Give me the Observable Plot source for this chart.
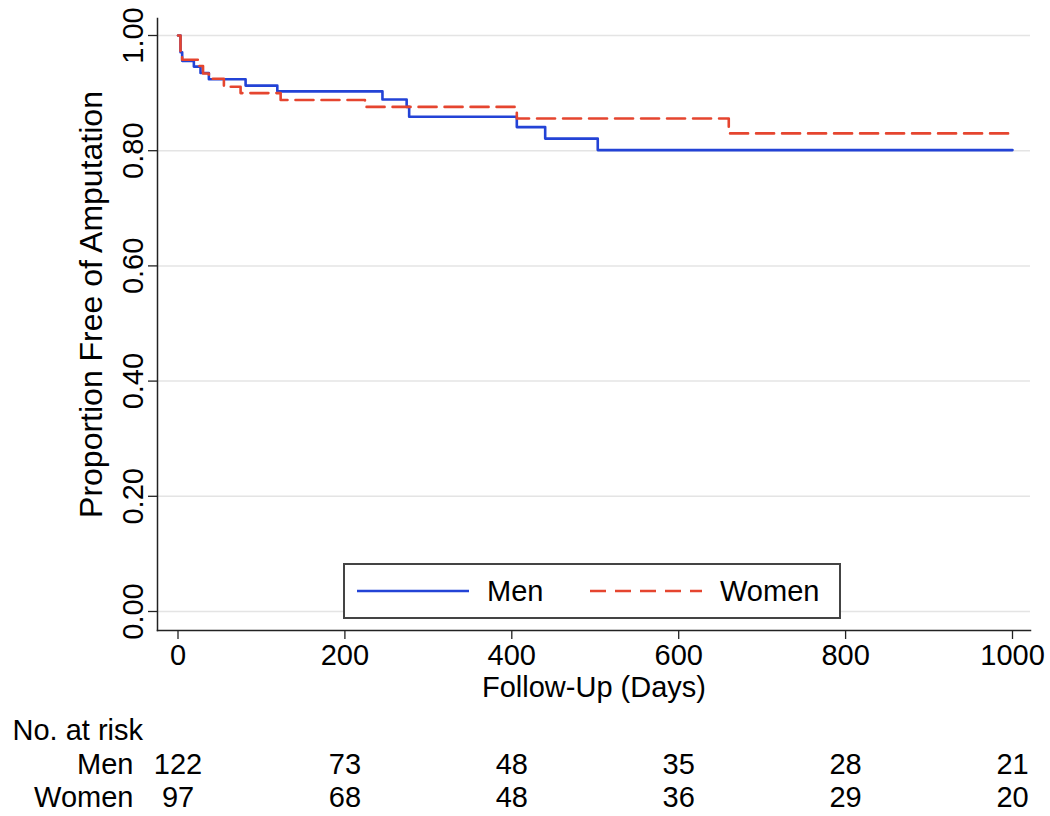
<!DOCTYPE html>
<html>
<head>
<meta charset="utf-8">
<script src="https://cdn.jsdelivr.net/npm/d3@7"></script>
<script src="https://cdn.jsdelivr.net/npm/@observablehq/plot@0.6"></script>
<style>
  html, body { margin: 0; padding: 0; background: #fff; }
  #wrap { position: relative; width: 1050px; height: 816px; font-family: "Liberation Sans", Arial, Helvetica, sans-serif; }
  #legend { position: absolute; left: 343px; top: 563px; width: 494px; height: 52px; border: 2px solid #444; background: #fff; }
  .lg-item { position: absolute; top: 0; height: 52px; display: flex; align-items: center; font-size: 29px; color: #000; }
  .lg-item svg { margin-right: 18px; }
</style>
</head>
<body>
<div id="wrap"><div id="legend"></div></div>
<script>
// Kaplan-Meier step points (day, proportion free of amputation)
const menDays   = [0, 3, 5, 19, 27, 37, 81, 119, 245, 274, 277, 406, 440, 503, 1000];
const menSurv   = [1.0, 0.971, 0.956, 0.946, 0.935, 0.924, 0.913, 0.903, 0.889, 0.876, 0.859, 0.841, 0.821, 0.801, 0.801];
const womenDays = [0, 3, 5, 24, 30, 37, 55, 75, 123, 224, 406, 660, 1000];
const womenSurv = [1.0, 0.971, 0.958, 0.947, 0.934, 0.925, 0.911, 0.900, 0.888, 0.876, 0.856, 0.830, 0.830];

const seriesNames  = ["Men", "Women"];
const seriesColors = ["#2343d6", "#e5452f"];
const seriesDash   = [null, "18,8"];

const xTicks = [0, 200, 400, 600, 800, 1000];
const yTicks = [0, 0.2, 0.4, 0.6, 0.8, 1.0];
const riskDays  = [0, 200, 400, 600, 800, 1000];
const riskMen   = [122, 73, 48, 35, 28, 21];
const riskWomen = [97, 68, 48, 36, 29, 20];

const men = menDays.map((d, i) => ({day: d, surv: menSurv[i]}));
const women = womenDays.map((d, i) => ({day: d, surv: womenSurv[i]}));
const riskTable = riskDays.map((d, i) => ({day: d, men: riskMen[i], women: riskWomen[i]}));

const font = "'Liberation Sans', Arial, Helvetica, sans-serif";
const fs = 29;

const chart = Plot.plot({
  width: 1050,
  height: 816,
  marginLeft: 157,
  marginRight: 20,
  marginTop: 18,
  marginBottom: 186,
  style: {fontFamily: font, fontSize: fs + "px", color: "#000", background: "#fff", overflow: "visible"},
  x: {domain: [0, 1000], range: [177.5, 1012]},
  y: {domain: [0, 1], range: [611, 35]},
  marks: [
    Plot.gridY(yTicks, {stroke: "#e4e4e4", strokeOpacity: 1, strokeWidth: 1.5}),
    Plot.frame({anchor: "left", stroke: "#222", strokeWidth: 1.5}),
    Plot.frame({anchor: "bottom", stroke: "#222", strokeWidth: 1.5}),
    Plot.axisX({ticks: xTicks, tickSize: 9, tickPadding: 5, tickFormat: d3.format("d"), fontSize: fs, label: null, stroke: "#222", strokeWidth: 1.3}),
    Plot.axisY({ticks: yTicks, tickSize: 9, tickPadding: 6, tickRotate: -90, tickFormat: d3.format(".2f"), fontSize: fs, label: null, stroke: "#222", strokeWidth: 1.3}),
    Plot.line(men, {x: "day", y: "surv", curve: "step-after", stroke: seriesColors[0], strokeWidth: 2.6}),
    Plot.line(women, {x: "day", y: "surv", curve: "step-after", stroke: seriesColors[1], strokeWidth: 2.6, strokeDasharray: seriesDash[1]}),
    Plot.text(["Follow-Up (Days)"], {frameAnchor: "bottom", dy: 66, fontSize: fs}),
    Plot.text(["Proportion Free of Amputation"], {frameAnchor: "left", textAnchor: "middle", rotate: -90, dx: -66, dy: -20, fontSize: 32}),
    Plot.text(["No. at risk"], {frameAnchor: "bottom-left", dx: -145, dy: 109, textAnchor: "start", fontSize: fs}),
    Plot.text([seriesNames[0]], {frameAnchor: "bottom-left", dx: -24, dy: 143, textAnchor: "end", fontSize: fs}),
    Plot.text([seriesNames[1]], {frameAnchor: "bottom-left", dx: -24, dy: 176, textAnchor: "end", fontSize: fs}),
    Plot.text(riskTable, {x: "day", text: "men", frameAnchor: "bottom", dy: 143, fontSize: fs}),
    Plot.text(riskTable, {x: "day", text: "women", frameAnchor: "bottom", dy: 176, fontSize: fs})
  ]
});
document.getElementById("wrap").prepend(chart);

// legend
const legend = document.getElementById("legend");
const lgLeft = [12, 245];
seriesNames.forEach((name, i) => {
  const item = document.createElement("div");
  item.className = "lg-item";
  item.style.left = lgLeft[i] + "px";
  const svg = d3.create("svg").attr("width", 112).attr("height", 10);
  svg.append("line").attr("x1", 0).attr("x2", 112).attr("y1", 5).attr("y2", 5)
    .attr("stroke", seriesColors[i]).attr("stroke-width", 2.6)
    .attr("stroke-dasharray", i === 1 ? "16,9" : null);
  item.appendChild(svg.node());
  const t = document.createElement("span");
  t.textContent = name;
  item.appendChild(t);
  legend.appendChild(item);
});
</script>
</body>
</html>
